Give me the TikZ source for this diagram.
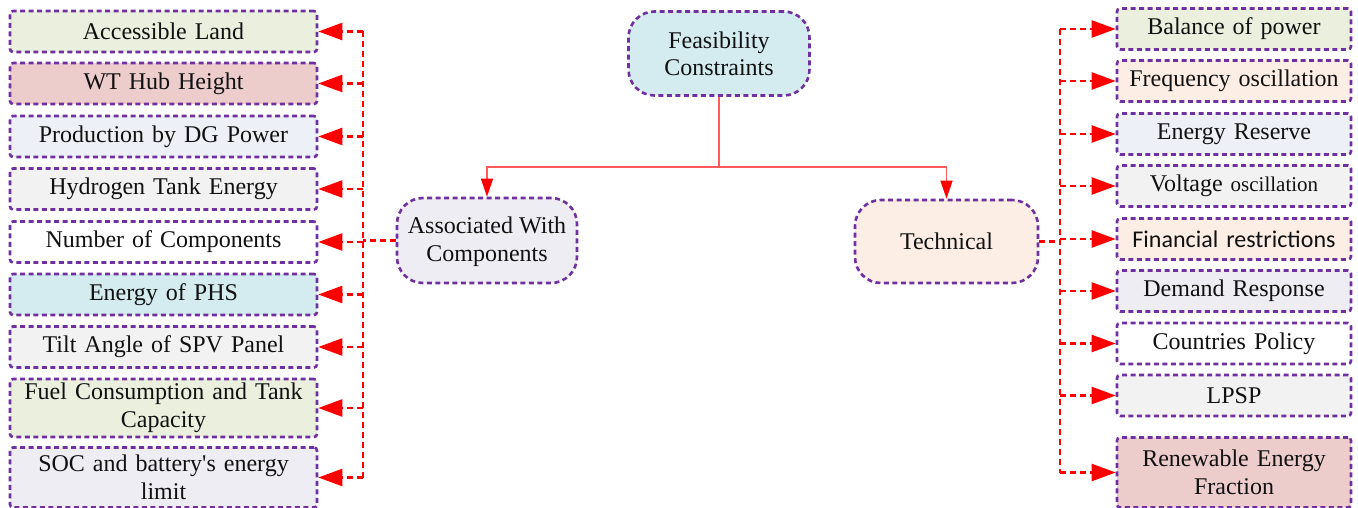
\documentclass[tikz,border=0pt]{standalone}
\usepackage{fontspec}
\setmainfont{Liberation Serif}
\newfontfamily\calibrisub{Carlito}
\usetikzlibrary{arrows.meta}

\definecolor{frame}{HTML}{7030A0}
\definecolor{linkred}{HTML}{FF0000}
\definecolor{trunkred}{HTML}{FF5B5B}
\definecolor{txt}{HTML}{111111}
\definecolor{cGreen}{HTML}{EBEFDE}
\definecolor{cRose}{HTML}{EDCDCC}
\definecolor{cBlueGrey}{HTML}{EDF1F7}
\definecolor{cGrey}{HTML}{F2F2F2}
\definecolor{cCyan}{HTML}{D4EBF0}
\definecolor{cLilac}{HTML}{EFEDF4}
\definecolor{cPeach}{HTML}{FCEEE4}

\tikzset{
  x=1pt, y=-1pt,
  every node/.style={font=\fontsize{24}{28}\selectfont, text=txt, align=center, inner sep=2pt},
  itembox/.style={draw=frame, line width=2.6pt, dash pattern=on 5pt off 3.5pt,
    rounded corners=3pt, minimum height=41pt},
  leftbox/.style={itembox, minimum width=307pt, text width=290pt},
  rightbox/.style={itembox, minimum width=234pt, text width=225pt},
  hubbox/.style={draw=frame, line width=2.6pt, dash pattern=on 5pt off 3.5pt,
    rounded corners=26pt, minimum width=181pt, minimum height=84pt},
  link/.style={draw=linkred, line width=2.4pt, dash pattern=on 6pt off 4pt},
  linktip/.style={link, -{Triangle[length=24pt,width=17pt]}},
  trunk/.style={draw=trunkred, line width=1.3pt},
  trunktip/.style={trunk, -{Triangle[length=18pt,width=12pt,color=linkred]}}
}

\begin{document}
\begin{tikzpicture}
\useasboundingbox (0,0) rectangle (1358,508);

% top level and the two groups
\node[hubbox, fill=cCyan] (feas) at (719,53.5) {Feasibility\\[-1pt]Constraints};
\node[hubbox, fill=cLilac, minimum width=180pt, minimum height=85pt, text depth=2pt] (assoc) at (487,240.5) {Associated With\\Components};
\node[hubbox, fill=cPeach, minimum width=183pt, minimum height=83pt] (tech) at (946.5,241.5) {Technical};

% component-related constraints
\node[leftbox, fill=cGreen]    (l1) at (163.5,31.5)  {Accessible Land};
\node[leftbox, fill=cRose]     (l2) at (163.5,83.5)  {WT Hub Height};
\node[leftbox, fill=cBlueGrey] (l3) at (163.5,136.5) {Production by DG Power};
\node[leftbox, fill=cGrey]     (l4) at (163.5,189)   {Hydrogen Tank Energy};
\node[leftbox, fill=white]     (l5) at (163.5,242)   {Number of Components};
\node[leftbox, fill=cCyan]     (l6) at (163.5,294.5) {Energy of PHS};
\node[leftbox, fill=cGrey]     (l7) at (163.5,347)   {Tilt Angle of SPV Panel};
\node[leftbox, fill=cGreen, minimum height=58pt] (l8) at (163.5,408) {Fuel Consumption and Tank\\Capacity};
\node[leftbox, fill=cLilac, minimum height=60pt] (l9) at (163.5,477.5) {SOC and battery\textquotesingle s energy\\limit};

% technical constraints
\node[rightbox, fill=cGreen]    (r1) at (1234,29)   {Balance of power};
\node[rightbox, fill=cPeach]    (r2) at (1234,81)   {Frequency oscillation};
\node[rightbox, fill=cBlueGrey] (r3) at (1234,134)  {Energy Reserve};
\node[rightbox, fill=cGrey]     (r4) at (1234,186)  {Voltage {\fontsize{21}{24}\selectfont oscillation}};
\node[rightbox, fill=cPeach]    (r5) at (1234,239)  {\calibrisub Financial restrictions};
\node[rightbox, fill=cLilac]    (r6) at (1234,291)  {Demand Response};
\node[rightbox, fill=white]     (r7) at (1234,343.5){Countries Policy};
\node[rightbox, fill=cGrey]     (r8) at (1234,395.5){LPSP};
\node[rightbox, fill=cRose, minimum height=70pt] (r9) at (1234,472.5) {Renewable Energy\\Fraction};

% trunk from the top level
\coordinate (split) at (719,167);
\draw[trunk] (feas.south) -- (split);
\draw[trunktip] (split) -| (assoc.north);
\draw[trunktip] (split) -| (tech.north);

% left bus
\coordinate (lbus) at (363,0);
\draw[link] (lbus |- l1.east) -- (lbus |- l9.east);
\draw[link] (assoc.west) -- (lbus |- assoc.west);
\foreach \n in {l1,l2,l3,l4,l5,l6,l7,l8,l9}
  \draw[linktip] (lbus |- \n.east) -- (\n.east);

% right bus
\coordinate (rbus) at (1060,0);
\draw[link] (rbus |- r1.west) -- (rbus |- r9.west);
\draw[link] (tech.east) -- (rbus |- tech.east);
\foreach \n in {r1,r2,r3,r4,r5,r6,r7,r8,r9}
  \draw[linktip] (rbus |- \n.west) -- (\n.west);
\end{tikzpicture}
\end{document}
